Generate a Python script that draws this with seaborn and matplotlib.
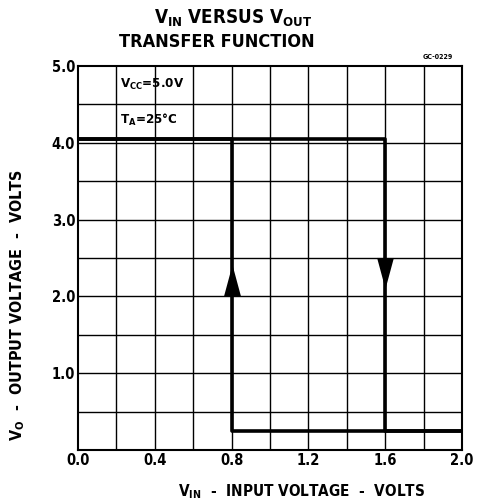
import matplotlib
matplotlib.use("Agg")
import matplotlib.pyplot as plt
import seaborn as sns
import pandas as pd
import numpy as np

# ---- data ----
vin_rising = [0.0, 1.6, 1.6, 2.0]
vout_rising = [4.05, 4.05, 0.25, 0.25]
vin_falling = [2.0, 0.8, 0.8, 0.0]
vout_falling = [0.25, 0.25, 4.05, 4.05]
arrow_up_x = [0.8]
arrow_up_y = [2.22]
arrow_down_x = [1.6]
arrow_down_y = [2.31]
x_ticks = [0.0, 0.4, 0.8, 1.2, 1.6, 2.0]
x_ticklabels = ["0.0", "0.4", "0.8", "1.2", "1.6", "2.0"]
y_ticks = [1.0, 2.0, 3.0, 4.0, 5.0]
y_ticklabels = ["1.0", "2.0", "3.0", "4.0", "5.0"]

sns.set_theme(style="white")
plt.rcParams['font.family'] = ['DejaVu Sans']
plt.rcParams['font.weight'] = 'bold'
plt.rcParams['font.stretch'] = 'condensed'
for k in ['text.color', 'xtick.color', 'ytick.color', 'axes.labelcolor', 'axes.edgecolor']:
    plt.rcParams[k] = 'black'

fig = plt.figure(figsize=(4.8, 5.04), dpi=100)
ax = fig.add_axes([78/480, 1-450/504, 384/480, 384/504])

# grid
for xv in np.arange(0.2, 2.0, 0.2):
    ax.axvline(xv, color='black', lw=1.0, zorder=1)
for yv in np.arange(0.5, 5.0, 0.5):
    ax.axhline(yv, color='black', lw=1.0, zorder=1)

df_r = pd.DataFrame({'vin': vin_rising, 'vout': vout_rising})
df_f = pd.DataFrame({'vin': vin_falling, 'vout': vout_falling})
sns.lineplot(data=df_r, x='vin', y='vout', sort=False, estimator=None, color='black', lw=2.6, ax=ax, zorder=3)
sns.lineplot(data=df_f, x='vin', y='vout', sort=False, estimator=None, color='black', lw=2.6, ax=ax, zorder=3)

up_tri = [(-0.27, -0.5), (0.27, -0.5), (0.0, 0.5), (-0.27, -0.5)]
down_tri = [(-0.27, 0.5), (0.27, 0.5), (0.0, -0.5), (-0.27, 0.5)]
sns.scatterplot(x=arrow_up_x, y=arrow_up_y, marker=up_tri, s=500, color='black', linewidth=0, ax=ax, zorder=4)
sns.scatterplot(x=arrow_down_x, y=arrow_down_y, marker=down_tri, s=500, color='black', linewidth=0, ax=ax, zorder=4)

ax.set_xlim(0, 2.0)
ax.set_ylim(0, 5.0)
ax.set_xticks(x_ticks)
ax.set_xticklabels(x_ticklabels, fontsize=10.5, fontweight='bold')
ax.set_yticks(y_ticks)
ax.set_yticklabels(y_ticklabels, fontsize=10.5, fontweight='bold')
ax.tick_params(length=0, pad=2)
ax.set_xlabel('')
ax.set_ylabel('')
for sp in ax.spines.values():
    sp.set_color('black')
    sp.set_linewidth(1.5)

ax.text(0.22, 4.76, r'V$_\mathregular{CC}$=5.0V', fontsize=9.5, fontweight='bold', va='center', ha='left')
ax.text(0.22, 4.30, r'T$_\mathregular{A}$=25°C', fontsize=9.5, fontweight='bold', va='center', ha='left')

fig.text(233/480, 1-18/504, r'V$_\mathregular{IN}$ VERSUS V$_\mathregular{OUT}$', fontsize=13.5, fontweight='bold', ha='center', va='center')
fig.text(217/480, 1-42/504, 'TRANSFER FUNCTION', fontsize=13, fontweight='bold', ha='center', va='center')
fig.text(453/480, 1-57/504, 'GC-0229', fontsize=5, fontweight='bold', ha='right', va='center')
fig.text(302/480, 1-492/504, r'V$_\mathregular{IN}$  -  INPUT VOLTAGE  -  VOLTS', fontsize=11, fontweight='bold', ha='center', va='center')
fig.text(18/480, 1-305/504, r'V$_\mathregular{O}$  -  OUTPUT VOLTAGE  -  VOLTS', fontsize=11.5, fontweight='bold', ha='center', va='center', rotation=90)

fig.savefig('out.png', dpi=100)
